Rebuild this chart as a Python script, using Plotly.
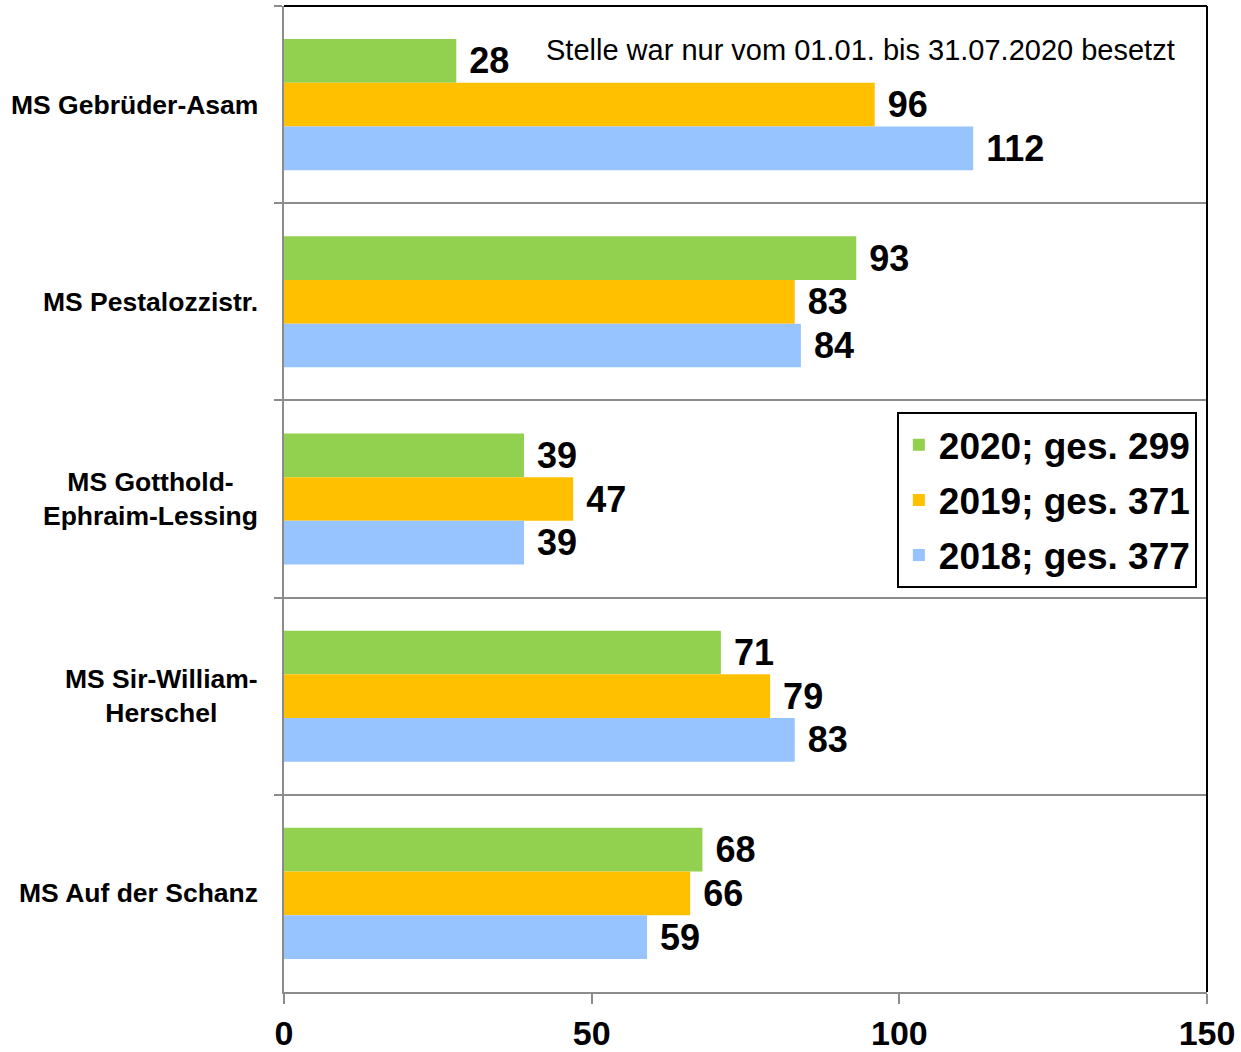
import plotly.graph_objects as go

# Schools, top to bottom
schools = [
    "MS Gebrüder-Asam",
    "MS Pestalozzistr.",
    "MS Gotthold-<br>Ephraim-Lessing",
    "MS Sir-William-<br>Herschel",
    "MS Auf der Schanz",
]
values_2020 = [28, 93, 39, 71, 68]
values_2019 = [96, 83, 47, 79, 66]
values_2018 = [112, 84, 39, 83, 59]

series_names = ["2020; ges. 299", "2019; ges. 371", "2018; ges. 377"]
series_colors = ["#92D050", "#FFC000", "#97C3FF"]

x_ticks = [0, 50, 100, 150]
note_text = "Stelle war nur vom 01.01. bis 31.07.2020 besetzt"

FONT = "Liberation Sans, Arial, sans-serif"
GRID = "#8C8C8C"

fig = go.Figure()
for i, (name, vals, col) in enumerate(zip(series_names, [values_2020, values_2019, values_2018], series_colors)):
    fig.add_trace(go.Bar(
        y=schools,
        x=vals,
        orientation="h",
        name=name,
        legendgroup=f"g{i}",
        marker=dict(color=col, line=dict(width=0)),
        text=vals,
        texttemplate="\u00a0%{x}",
        textposition="outside",
        constraintext="none",
        cliponaxis=False,
        textfont=dict(family=FONT, size=36, color="black", weight="bold"),
    ))

fig.update_layout(
    width=1241,
    height=1052,
    barmode="group",
    bargap=0.335,
    bargroupgap=0,
    paper_bgcolor="white",
    plot_bgcolor="white",
    margin=dict(l=284, r=34, t=6, b=60),
    font=dict(family=FONT, color="black"),
    showlegend=True,
    legend=dict(
        x=0.989, xanchor="right",
        y=0.588, yanchor="top",
        bgcolor="white",
        bordercolor="black",
        borderwidth=2,
        tracegroupgap=4,
        font=dict(family=FONT, size=37, color="black", weight="bold"),
        traceorder="grouped",
    ),
    xaxis=dict(
        range=[0, 150],
        tickvals=x_ticks,
        ticks="outside",
        ticklen=10,
        tickwidth=2,
        tickcolor=GRID,
        ticklabelstandoff=0,
        automargin=False,
        showgrid=False,
        zeroline=False,
        showline=True,
        linecolor=GRID,
        linewidth=2,
        tickfont=dict(family=FONT, size=34, color="black", weight="bold"),
    ),
    yaxis=dict(
        autorange="reversed",
        tickson="boundaries",
        ticks="outside",
        ticklen=8,
        tickwidth=2,
        tickcolor=GRID,
        automargin=False,
        showgrid=True,
        gridcolor=GRID,
        gridwidth=2,
        showline=True,
        linecolor=GRID,
        linewidth=2,
        showticklabels=False,
    ),
)

# black frame on top and right
fig.add_shape(type="line", xref="paper", yref="paper", x0=0, x1=1, y0=1, y1=1,
              line=dict(color="black", width=2))
fig.add_shape(type="line", xref="paper", yref="paper", x0=1, x1=1, y0=0, y1=1,
              line=dict(color="black", width=2))

# category labels, centred lines
for s in schools:
    fig.add_annotation(
        text=s, xref="paper", yref="y", x=-0.026, y=s,
        xanchor="right", yanchor="middle", align="center", showarrow=False,
        font=dict(family=FONT, size=26.5, color="black", weight="bold"),
    )

fig.add_annotation(
    text=note_text, xref="paper", yref="paper", x=0.282, y=0.955,
    xanchor="left", yanchor="middle", showarrow=False,
    font=dict(family=FONT, size=29, color="black"),
)

fig.write_html(
    "out.html",
    config={"displayModeBar": False},
    post_script="document.body.style.margin='0px';",
)
